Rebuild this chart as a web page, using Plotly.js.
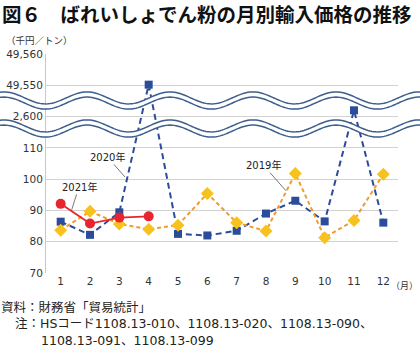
<!DOCTYPE html>
<html><head><meta charset="utf-8">
<script src="https://cdn.plot.ly/plotly-3.0.1.min.js"></script>
<style>html,body{margin:0;padding:0;background:#fff;}</style>
</head><body><div id="chart" style="width:420px;height:352px;"></div>
<script>
// ---- data ----
const months = [1,2,3,4,5,6,7,8,9,10,11,12];
const monthLabels = ['1','2','3','4','5','6','7','8','9','10','11','12'];
const price2019 = [83.7, 89.7, 85.7, 84.0, 85.3, 95.4, 86.1, 83.4, 101.8, 81.3, 86.8, 101.6];
const price2020 = [86.4, 82.2, 89.4, 49550.2, 82.5, 82.0, 83.5, 89.0, 93.1, 86.5, 2602, 86.1];
const months2021 = [1,2,3,4];
const price2021 = [92.1, 85.8, 87.7, 88.1];
const yTickValues = [70, 80, 90, 100, 110, 2600, 49550, 49560];
const yTickLabels = ['70','80','90','100','110','2,600','49,550','49,560'];

// broken axis: each segment keeps 10 units per grid step
function toAxis(v){
  if (v >= 10000) return 130 + (v - 49550);
  if (v >= 1000) return 120 + (v - 2600);
  return v;
}

const JP = '"Noto Sans CJK JP", sans-serif';
const NUM = '"DejaVu Sans", "Noto Sans CJK JP", sans-serif';
const BLUE = '#2b4c9b', ORANGE = '#f39a2c', YELLOW = '#f8c21e', RED = '#e8252f';

const traces = [
  {x: months, y: price2020.map(toAxis), type: 'scatter', mode: 'lines+markers', name: '2020年',
   line: {color: BLUE, width: 2, dash: '6px,4px'}, marker: {symbol: 'square', size: 8, color: BLUE}},
  {x: months, y: price2019.map(toAxis), type: 'scatter', mode: 'lines+markers', name: '2019年',
   line: {color: ORANGE, width: 2, dash: '4px,3px'}, marker: {symbol: 'diamond', size: 10, color: YELLOW}},
  {x: months2021, y: price2021.map(toAxis), type: 'scatter', mode: 'lines+markers', name: '2021年',
   line: {color: RED, width: 1.8}, marker: {symbol: 'circle', size: 10, color: RED}}
];

// ---- layout geometry (pixels) ----
const L = 46, T = 54, W = 352, H = 219;
const px2x = px => (px - L) / W;
const py2y = py => (T + H - py) / H;

// wavy break marks
const AMP = 6, PERIOD = 83, CREST = 87, GAP = 2.6;
function wavePts(centerPy, off){
  const pts = [];
  for (let px = -6; px <= 426; px += 2){
    const py = centerPy - AMP * Math.cos(2 * Math.PI * (px - CREST) / PERIOD) + off;
    pts.push([px2x(px), py2y(py)]);
  }
  return pts;
}
function ptsToPath(pts, start){
  return pts.map((p, i) => ((i === 0 && start) ? 'M' : 'L') + p[0].toFixed(5) + ',' + p[1].toFixed(5)).join(' ');
}
const shapes = [];
[100.5, 128.5].forEach(c => {
  const top = wavePts(c, -GAP), bot = wavePts(c, GAP);
  shapes.push({type: 'path', xref: 'paper', yref: 'paper', layer: 'above',
    path: ptsToPath(top, true) + ' ' + ptsToPath(bot.slice().reverse(), false) + ' Z',
    fillcolor: '#ffffff', line: {width: 0}});
  shapes.push({type: 'path', xref: 'paper', yref: 'paper', layer: 'above',
    path: ptsToPath(top, true), line: {color: '#3e5e8e', width: 1.5}});
  shapes.push({type: 'path', xref: 'paper', yref: 'paper', layer: 'above',
    path: ptsToPath(bot, true), line: {color: '#3e5e8e', width: 1.5}});
});

const annotations = [
  {xref: 'paper', yref: 'paper', x: px2x(4), y: py2y(40), xanchor: 'left', yanchor: 'middle',
   text: '（千円／トン）', showarrow: false, font: {family: JP, size: 9.5, color: '#333'}},
  {xref: 'paper', yref: 'paper', x: px2x(389), y: py2y(285), xanchor: 'left', yanchor: 'middle',
   text: '（月）', showarrow: false, font: {family: JP, size: 9, color: '#333'}},
  {x: 3.19, y: 100.7, ax: -17.5, ay: -20, text: '2020年', showarrow: true, arrowhead: 0,
   arrowwidth: 0.8, arrowcolor: '#555', font: {family: NUM, size: 10, color: '#222'}},
  {x: 1.376, y: 90.2, ax: 7.3, ay: -23, text: '2021年', showarrow: true, arrowhead: 0,
   arrowwidth: 0.8, arrowcolor: '#555', font: {family: NUM, size: 10, color: '#222'}},
  {x: 8.68, y: 96.3, ax: -22.5, ay: -25.5, text: '2019年', showarrow: true, arrowhead: 0,
   arrowwidth: 0.8, arrowcolor: '#555', font: {family: NUM, size: 10, color: '#222'}},
  {xref: 'paper', yref: 'paper', x: px2x(-1), y: py2y(307), xanchor: 'left', yanchor: 'middle',
   text: '資料：財務省「貿易統計」', showarrow: false, font: {family: NUM, size: 12.5, color: '#222'}},
  {xref: 'paper', yref: 'paper', x: px2x(13), y: py2y(323.5), xanchor: 'left', yanchor: 'middle',
   text: '注：HSコード1108.13-010、1108.13-020、1108.13-090、', showarrow: false, font: {family: NUM, size: 12.5, color: '#222'}},
  {xref: 'paper', yref: 'paper', x: px2x(39), y: py2y(340), xanchor: 'left', yanchor: 'middle',
   text: '1108.13-091、1108.13-099', showarrow: false, font: {family: NUM, size: 12.5, color: '#222'}}
];

const layout = {
  width: 420, height: 352,
  margin: {l: L, r: 420 - L - W, t: T, b: 352 - T - H, pad: 0},
  paper_bgcolor: '#fff', plot_bgcolor: '#fff',
  showlegend: false, hovermode: false,
  title: {text: '図６　ばれいしょでん粉の月別輸入価格の推移', x: 0.005, xanchor: 'left', xref: 'container',
    y: 0.977, yanchor: 'top', yref: 'container', font: {family: JP, size: 19.5, color: '#111', weight: 'bold'}},
  xaxis: {range: [0.5, 12.5], tickvals: months, ticktext: monthLabels, showgrid: false, zeroline: false,
    showline: false, ticks: '', tickfont: {family: NUM, size: 10.5, color: '#333'}, fixedrange: true},
  yaxis: {range: [70, 140], tickvals: yTickValues.map(toAxis), ticktext: yTickLabels, showgrid: true,
    gridcolor: '#d2d2d2', gridwidth: 1, zeroline: false, showline: true, linecolor: '#c8c8c8', linewidth: 1,
    ticks: '', tickfont: {family: NUM, size: 10.5, color: '#333'}, fixedrange: true},
  shapes: shapes,
  annotations: annotations
};

Plotly.newPlot('chart', traces, layout, {staticPlot: true, displayModeBar: false});
</script>
</body></html>
